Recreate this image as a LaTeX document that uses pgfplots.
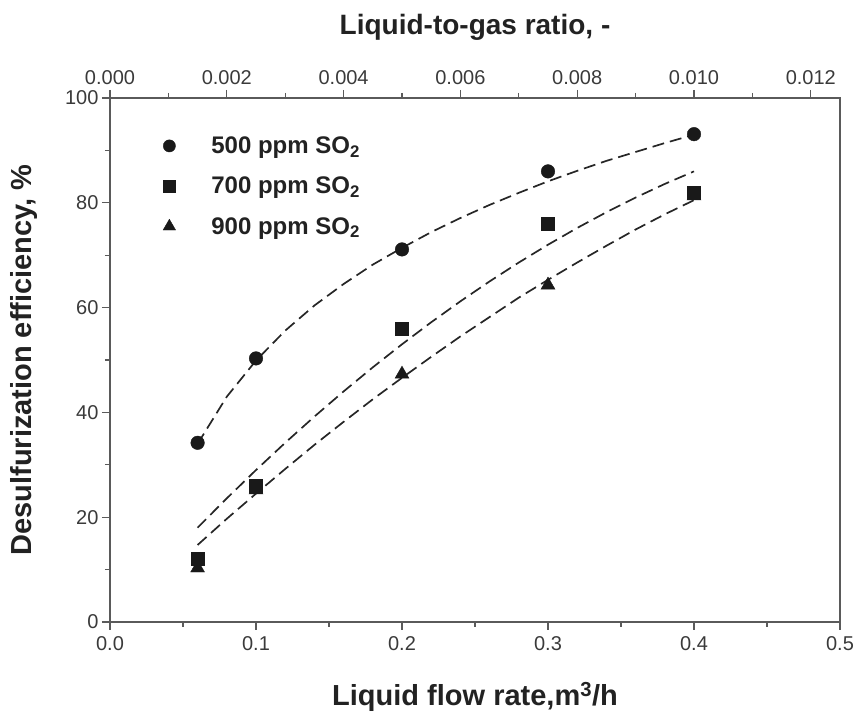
\documentclass[border=0pt]{standalone}
\usepackage{fontspec}
\setmainfont{Liberation Sans}
\usepackage{pgfplots}
\pgfplotsset{compat=1.18}
\definecolor{axgray}{HTML}{5A5A5A}
\definecolor{txtgray}{HTML}{3A3A3A}
\definecolor{lblgray}{HTML}{222222}
\begin{document}
\begin{tikzpicture}
\useasboundingbox (-110pt,-95pt) rectangle (744pt,622pt);
% top axis
\begin{axis}[
  scale only axis, width=730pt, height=524pt,
  xmin=0, xmax=0.0125, ymin=0, ymax=100,
  axis x line*=top, hide y axis,
  xtick={0,0.002,0.004,0.006,0.008,0.010,0.012},
  minor xtick={0.001,0.003,0.005,0.007,0.009,0.011},
  tick align=outside, major tick length=8pt, minor tick length=5pt,
  axis line style={axgray, line width=1.6pt},
  every tick/.style={axgray, line width=1.3pt},
  xticklabel style={font=\fontsize{20}{24}\selectfont, text=txtgray, yshift=2pt},
  /pgf/number format/assume math mode=true,
  xticklabel={\pgfmathprintnumber[fixed,fixed zerofill,precision=3]{\tick}},
  scaled x ticks=false,
  xlabel={\textbf{Liquid-to-gas ratio, -}},
  xlabel style={font=\fontsize{28}{33}\selectfont, text=lblgray,
    at={(axis description cs:0.5,1.134)}, anchor=center},
]
\end{axis}
% main axis
\begin{axis}[
  scale only axis, width=730pt, height=524pt,
  xmin=0, xmax=0.5, ymin=0, ymax=100,
  xtick pos=lower, ytick pos=left,
  xtick={0,0.1,0.2,0.3,0.4,0.5},
  minor xtick={0.05,0.15,0.25,0.35,0.45},
  ytick={0,20,40,60,80,100},
  minor ytick={10,30,50,70,90},
  tick align=outside, major tick length=8pt, minor tick length=5pt,
  axis line style={axgray, line width=1.6pt},
  every tick/.style={axgray, line width=1.3pt},
  ticklabel style={font=\fontsize{20}{24}\selectfont, text=txtgray},
  xticklabel style={yshift=-3pt},
  /pgf/number format/assume math mode=true,
  xticklabel={\pgfmathprintnumber[fixed,fixed zerofill,precision=1]{\tick}},
  yticklabel={\pgfmathprintnumber[fixed,precision=0]{\tick}},
  xlabel={\textbf{Liquid flow rate,m\textsuperscript{3}/h}},
  ylabel={\textbf{Desulfurization efficiency, \%}},
  xlabel style={font=\fontsize{29}{34}\selectfont, text=lblgray,
    at={(axis description cs:0.5,-0.143)}, anchor=center},
  ylabel style={font=\fontsize{29}{34}\selectfont, text=lblgray,
    at={(axis description cs:-0.118,0.5)}, anchor=center},
  legend style={draw=none, fill=none, at={(axis description cs:0.066,0.934)}, anchor=north west,
    font=\fontsize{24}{28}\selectfont\bfseries, text=lblgray, row sep=18pt},
  legend cell align=left,
  legend image code/.code={\draw[#1, every mark/.append style={scale=0.9}] plot coordinates {(0pt,0pt)};
     \path[draw=none, fill=none] (-8pt,0pt) rectangle (40pt,0pt);},
  clip=false,
]
% fitted curves (dashed)
\addplot[forget plot, black!85, line width=1.7pt, dash pattern=on 12pt off 6pt] coordinates {
(0.06,34.0) (0.08,43.0) (0.10,49.9) (0.12,55.6) (0.14,60.4) (0.16,64.5) (0.18,68.2)
(0.20,71.4) (0.22,74.4) (0.24,77.1) (0.26,79.6) (0.28,81.9) (0.30,84.1) (0.32,86.1)
(0.34,88.0) (0.36,89.7) (0.38,91.4) (0.40,93.0)};
\addplot[forget plot, black!85, line width=1.7pt, dash pattern=on 12pt off 6pt] coordinates {
(0.06,18.0) (0.08,23.6) (0.10,29.0) (0.12,34.2) (0.14,39.2) (0.16,44.0) (0.18,48.6)
(0.20,53.0) (0.22,57.2) (0.24,61.2) (0.26,65.0) (0.28,68.6) (0.30,72.0) (0.32,75.2)
(0.34,78.2) (0.36,81.0) (0.38,83.6) (0.40,86.0)};
\addplot[forget plot, black!85, line width=1.7pt, dash pattern=on 12pt off 6pt] coordinates {
(0.06,14.7) (0.08,19.7) (0.10,24.5) (0.12,29.2) (0.14,33.8) (0.16,38.2) (0.18,42.5)
(0.20,46.6) (0.22,50.6) (0.24,54.5) (0.26,58.2) (0.28,61.9) (0.30,65.3) (0.32,68.6)
(0.34,71.8) (0.36,74.9) (0.38,77.8) (0.40,80.5)};
% data
\addplot[only marks, mark=*, mark size=6.8pt, black!90] coordinates {
(0.06,34.2) (0.1,50.3) (0.2,71.1) (0.3,86.0) (0.4,93.1)};
\addlegendentry{500 ppm SO\textsubscript{2}}
\addplot[only marks, mark=square*, mark size=6.5pt, black!90] coordinates {
(0.06,12.0) (0.1,26.0) (0.2,56.0) (0.3,76.0) (0.4,82.0)};
\addlegendentry{700 ppm SO\textsubscript{2}}
\addplot[only marks, mark=triangle*, mark size=8pt, black!90] coordinates {
(0.06,10.3) (0.1,25.2) (0.2,47.3) (0.3,64.3) (0.4,81.3)};
\addlegendentry{900 ppm SO\textsubscript{2}}
\end{axis}
\end{tikzpicture}
\end{document}
